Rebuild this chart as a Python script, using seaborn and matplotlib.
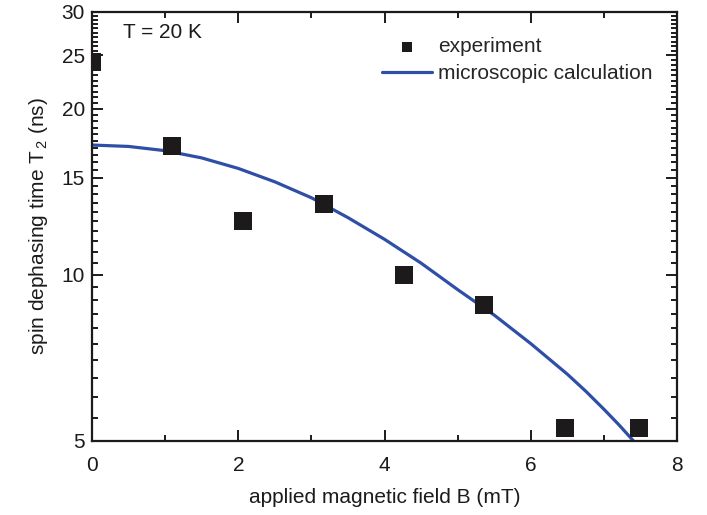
import numpy as np
import pandas as pd
import seaborn as sns
import matplotlib.pyplot as plt
from matplotlib.ticker import MultipleLocator, FixedLocator, NullFormatter

sns.set_style("ticks")
plt.rcParams['font.family'] = ['Liberation Sans', 'DejaVu Sans']
plt.rcParams['mathtext.default'] = 'regular'

# experiment
field_exp = [0.0, 1.09, 2.07, 3.17, 4.27, 5.36, 6.46, 7.47]
t2_exp = [24.3, 17.1, 12.5, 13.45, 10.0, 8.8, 5.28, 5.28]

# microscopic calculation
field_calc = [0.0, 0.5, 1.0, 1.5, 2.0, 2.5, 3.0, 3.5, 4.0, 4.5, 5.0, 5.5, 6.0, 6.5, 6.75, 7.0, 7.2, 7.4]
t2_calc = [17.2, 17.1, 16.8, 16.3, 15.6, 14.75, 13.8, 12.7, 11.6, 10.5, 9.4, 8.45, 7.5, 6.6, 6.15, 5.7, 5.35, 5.0]

df_exp = pd.DataFrame({"B": field_exp, "T2": t2_exp})
df_calc = pd.DataFrame({"B": field_calc, "T2": t2_calc})

fig = plt.figure(figsize=(7.07, 5.15), dpi=100)
ax = fig.add_axes([0.130, 0.144, 0.828, 0.833])

sns.lineplot(data=df_calc, x="B", y="T2", ax=ax, color="#2f4fa6", lw=2.3,
             label="microscopic calculation", zorder=2)
sns.scatterplot(data=df_exp, x="B", y="T2", ax=ax, marker="s", s=150, color="#1c1a1a",
                edgecolor="#1c1a1a", linewidth=0, label="experiment", zorder=3)

ax.set_yscale("log")
ax.set_xlim(0, 8)
ax.set_ylim(5, 30)
ax.xaxis.set_major_locator(MultipleLocator(2))
ax.xaxis.set_minor_locator(MultipleLocator(1))
ax.yaxis.set_major_locator(FixedLocator([5, 10, 15, 20, 25, 30]))
ax.yaxis.set_minor_locator(FixedLocator(np.arange(5, 30.01, 0.5)))
ax.yaxis.set_major_formatter(plt.FixedFormatter(["5", "10", "15", "20", "25", "30"]))
ax.yaxis.set_minor_formatter(NullFormatter())

ax.tick_params(which="both", direction="in", top=True, right=True, width=1.4,
               labelsize=15, color="#1c1a1a", labelcolor="#1c1a1a")
ax.tick_params(which="major", length=8)
ax.tick_params(which="minor", length=4)
ax.tick_params(axis="x", which="major", pad=11)
ax.tick_params(axis="y", which="major", pad=5)
for sp in ax.spines.values():
    sp.set_linewidth(1.6)
    sp.set_color("#1c1a1a")

ax.set_xlabel("applied magnetic field B (mT)", fontsize=15, color="#1c1a1a", labelpad=9)
ax.set_ylabel("spin dephasing time T$_{\\,2}$ (ns)", fontsize=15, color="#1c1a1a", labelpad=8)

ax.text(0.053, 0.975, "T = 20 K", transform=ax.transAxes, fontsize=15, color="#1c1a1a",
        ha="left", va="top")

handles, labels = ax.get_legend_handles_labels()
order = [labels.index("experiment"), labels.index("microscopic calculation")]
ax.legend([handles[i] for i in order], [labels[i] for i in order], loc="upper right",
          bbox_to_anchor=(0.99, 0.985), frameon=False, fontsize=15, handlelength=2.4,
          handletextpad=0.3, labelspacing=0.4, markerscale=0.6)

fig.savefig("out.png", dpi=100)
